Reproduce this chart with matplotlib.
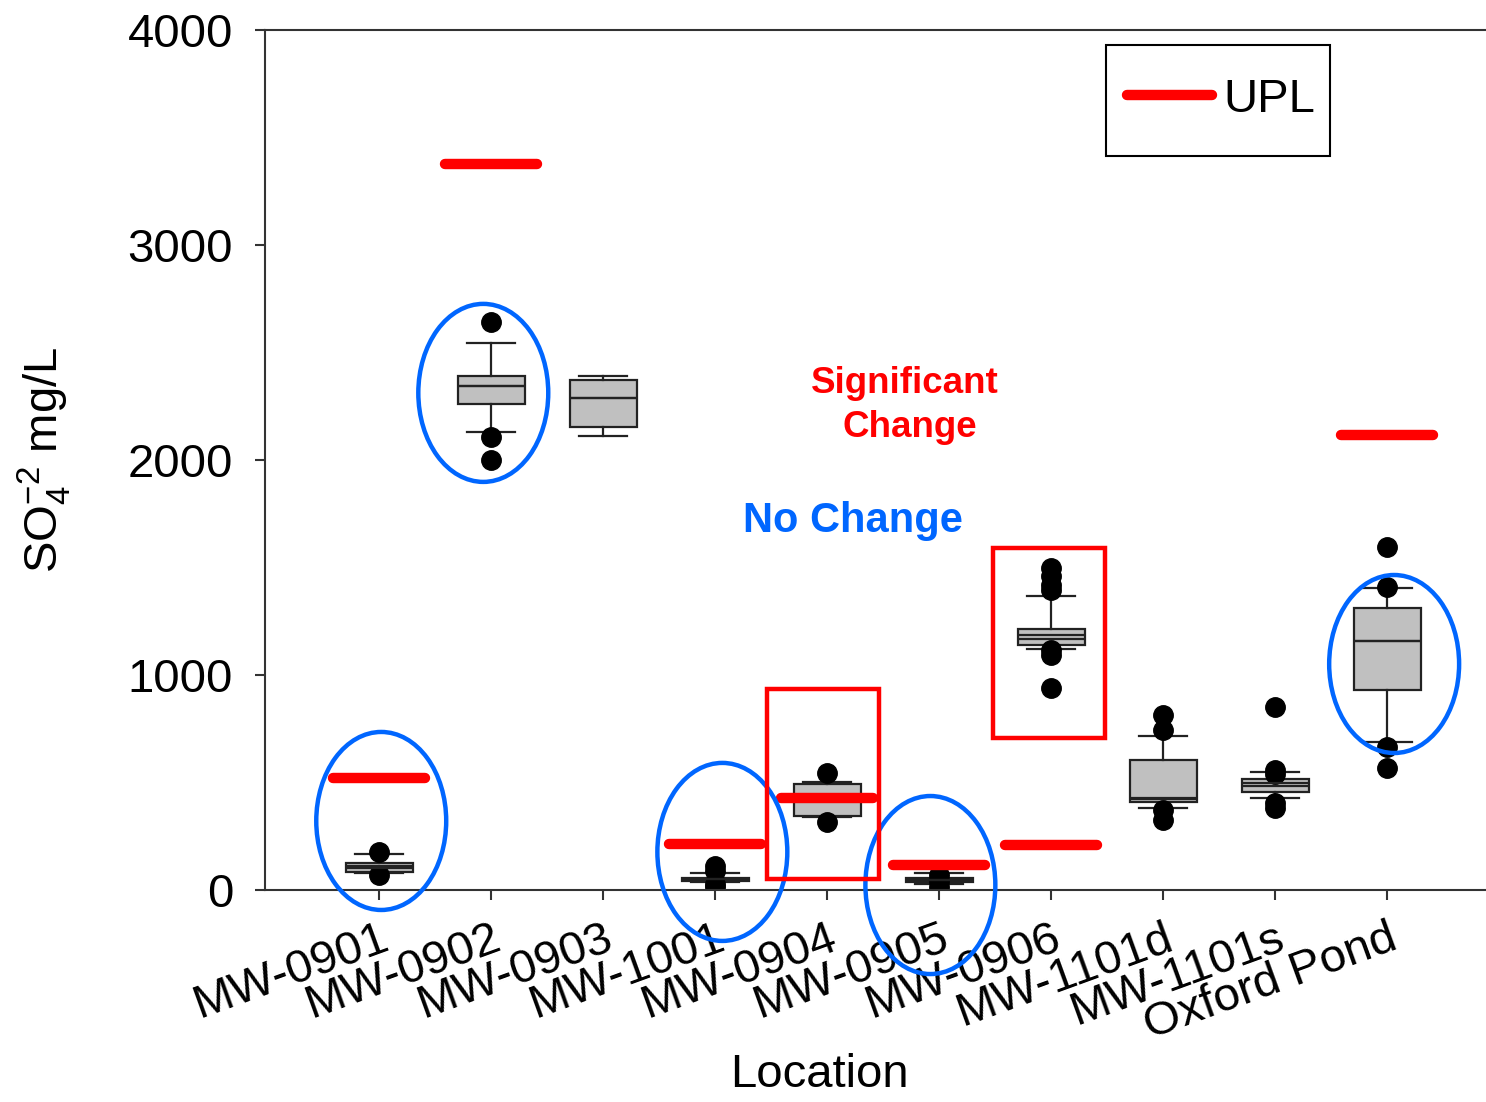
import numpy as np
import matplotlib
matplotlib.use("Agg")
import matplotlib.pyplot as plt
from matplotlib.patches import Ellipse, Rectangle
from matplotlib.lines import Line2D

plt.rcParams['font.family'] = ['Liberation Sans', 'DejaVu Sans']
plt.rcParams['mathtext.fontset'] = 'custom'
plt.rcParams['mathtext.rm'] = 'Liberation Sans'
plt.rcParams['mathtext.it'] = 'Liberation Sans:italic'

# ---- data ----
locations = ['MW-0901', 'MW-0902', 'MW-0903', 'MW-1001', 'MW-0904',
             'MW-0905', 'MW-0906', 'MW-1101d', 'MW-1101s', 'Oxford Pond']
q1 = [84, 2260, 2153, 42, 344, 38, 1140, 409, 456, 930]
median = [102, 2344, 2288, 50, 428, 46, 1167, 425, 484, 1158]
q3 = [126, 2391, 2372, 58, 493, 55, 1214, 605, 516, 1312]
whislo = [80, 2130, 2112, 35, 340, 30, 1121, 381, 428, 688]
whishi = [167, 2544, 2391, 79, 500, 79, 1367, 716, 549, 1405]
means = [110, 2344, 2288, 50, 428, 46, 1185, 430, 496, 1158]
fliers = [[175, 70],
          [2642, 2107, 2000],
          [],
          [110, 90, 30, 15],
          [544, 316],
          [70, 40, 15],
          [1498, 1460, 1420, 1395, 1115, 1095, 940],
          [814, 744, 372, 326],
          [851, 560, 540, 405, 380],
          [1595, 1409, 665, 567]]
upl = [521, 3377, np.nan, 214, 428, 116, 209, np.nan, np.nan, 2116]

yticks = [0, 1000, 2000, 3000, 4000]

# ---- figure ----
fig = plt.figure(figsize=(14.86, 11.02), dpi=100)
ax = fig.add_axes([0.1783, 0.1924, 0.8217, 0.7804])

positions = np.arange(1, len(locations) + 1)
stats = []
for i in range(len(locations)):
    stats.append(dict(med=median[i], q1=q1[i], q3=q3[i], whislo=whislo[i],
                      whishi=whishi[i], mean=means[i], fliers=fliers[i],
                      label=locations[i]))

edge = '#222222'
ax.bxp(stats, positions=positions, widths=0.6, capwidths=0.43,
       patch_artist=True, showmeans=True, meanline=True,
       boxprops=dict(facecolor='#C0C0C0', edgecolor=edge, linewidth=1.6),
       medianprops=dict(color=edge, linewidth=1.6),
       meanprops=dict(color=edge, linewidth=1.6, linestyle='-'),
       whiskerprops=dict(color=edge, linewidth=1.6),
       capprops=dict(color=edge, linewidth=1.6),
       flierprops=dict(marker='o', markerfacecolor='black',
                       markeredgecolor='black', markersize=14))

upl_arr = np.array(upl, dtype=float)
ok = ~np.isnan(upl_arr)
ax.hlines(upl_arr[ok], positions[ok] - 0.41, positions[ok] + 0.41,
          colors='red', linewidth=7.5, capstyle='round', zorder=5)

ax.set_xlim(-0.02, 10.88)
ax.set_ylim(0, 4000)
ax.set_yticks(yticks)
ax.set_yticklabels([str(v) for v in yticks], fontsize=34)
ax.set_xticks(positions)
ax.set_xticklabels(locations, fontsize=34, rotation=20, ha='right',
                   rotation_mode='anchor')

for s in ['left', 'bottom', 'top']:
    ax.spines[s].set_color('#333333')
    ax.spines[s].set_linewidth(1.5)
ax.spines['right'].set_visible(False)
ax.tick_params(axis='both', direction='out', length=7, width=1.5,
               color='#333333')
ax.tick_params(axis='y', pad=16)
ax.tick_params(axis='x', pad=12)

ax.set_ylabel(r'SO$_4^{-2}$ mg/L', fontsize=34)
ax.yaxis.set_label_coords(-0.157, 0.5)
ax.set_xlabel('Location', fontsize=34)
ax.xaxis.set_label_coords(0.4545, -0.19)

# legend (frame drawn separately to match the reference's box)
h = Line2D([], [], color='red', linewidth=7.5, solid_capstyle='round')
leg = ax.legend([h], ['UPL'], loc='center',
                bbox_to_anchor=(1221 / 1486, 1 - 100 / 1102),
                bbox_transform=fig.transFigure, borderaxespad=0,
                fontsize=34, handlelength=1.8, handletextpad=0.25,
                borderpad=0.0, frameon=False)
fig.patches.append(Rectangle((1106 / 1486, 1 - 156 / 1102),
                             224 / 1486, 111 / 1102, fill=False,
                             edgecolor='black', linewidth=1.5,
                             transform=fig.transFigure))

# annotations
blue = '#0066FF'
ellipses = [(1.018, 321), (1.929, 2312), (4.063, 177), (5.92, 23), (10.06, 1051)]
for (cx, cy) in ellipses:
    ax.add_patch(Ellipse((cx, cy), 1.16, 828, fill=False, edgecolor=blue,
                         linewidth=3.2, clip_on=False, zorder=10))
rects = [(4.464, 51, 1.0, 884), (6.482, 707, 1.0, 884)]
for (rx, ry, rw, rh) in rects:
    ax.add_patch(Rectangle((rx, ry), rw, rh, fill=False, edgecolor='red',
                           linewidth=3.2, clip_on=False, zorder=10))

ax.text(5.696, 2358, 'Significant', color='red', fontsize=26.5,
        fontweight='bold', ha='center', va='center')
ax.text(5.74, 2153, 'Change', color='red', fontsize=26.5,
        fontweight='bold', ha='center', va='center')
ax.text(5.232, 1716, 'No Change', color=blue, fontsize=30,
        fontweight='bold', ha='center', va='center')

fig.savefig('out.png', dpi=100)
